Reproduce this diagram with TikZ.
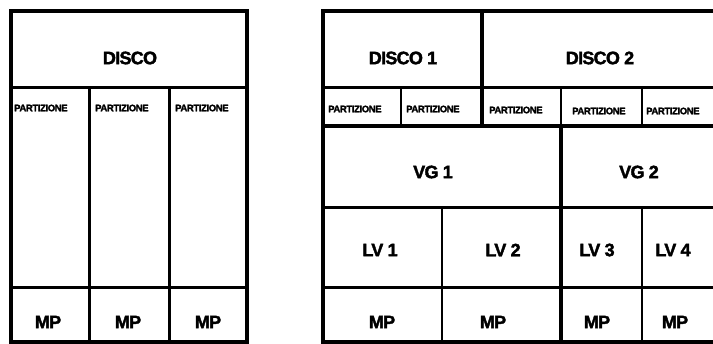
\documentclass[tikz,border=0pt]{standalone}
\usepackage{fontspec}
\newfontfamily\hfont{Liberation Sans Bold}[LetterSpace=-4,FakeBold=2]
\begin{document}
\begin{tikzpicture}[x=1pt,y=-1pt,
  big/.style={font=\hfont\fontsize{18}{18}\selectfont, inner sep=0pt},
  small/.style={font=\hfont\fontsize{9.5}{9.5}\selectfont, inner sep=0pt},
  outer/.style={line width=4pt},
  thick3/.style={line width=3pt},
  thin2/.style={line width=2pt},
  heavy/.style={line width=4.5pt}]
\useasboundingbox (0,0) rectangle (713,344);
\begin{scope}
\clip (0,0) rectangle (713,344);
% left diagram
\draw[thick3] (11,88) -- (247,88);
\draw[thick3] (89,88) -- (89,342);
\draw[thick3] (169,88) -- (169,342);
\draw[thick3] (11,288) -- (247,288);
\draw[outer] (11,11) rectangle (247,342);
% right diagram
\draw[thick3] (323,88) -- (720,88);
\draw[thin2] (401,88) -- (401,126);
\draw[thin2] (642,88) -- (642,126);
\draw[thin2] (561,88) -- (561,126);
\draw[thick3] (323,208) -- (720,208);
\draw[thick3] (323,288) -- (720,288);
\draw[thin2] (442,208) -- (442,342);
\draw[thin2] (642,208) -- (642,342);
\draw[outer] (323,126) -- (720,126);
\draw[heavy] (482,11) -- (482,126);
\draw[heavy] (561,126) -- (561,342);
\draw[outer] (720,11) -- (323,11) -- (323,342) -- (720,342);
\end{scope}
% left texts
\node[big] (disco) at (130,58) {DISCO};
\node[small, anchor=west] (pa1) at (14,108) {PARTIZIONE};
\node[small, anchor=west] (pa2) at (95,108) {PARTIZIONE};
\node[small, anchor=west] (pa3) at (175,108) {PARTIZIONE};
\node[big] (mpa1) at (48,322) {MP};
\node[big] (mpa2) at (128,322) {MP};
\node[big] (mpa3) at (208,322) {MP};
% right texts
\node[big] (disco1) at (403,58) {DISCO 1};
\node[big] (disco2) at (600,58) {DISCO 2};
\node[small, anchor=west] (pb1) at (328,109) {PARTIZIONE};
\node[small, anchor=west] (pb2) at (406,109) {PARTIZIONE};
\node[small, anchor=west] (pb3) at (489,110) {PARTIZIONE};
\node[small, anchor=west] (pb4) at (572,111) {PARTIZIONE};
\node[small, anchor=west] (pb5) at (646,111) {PARTIZIONE};
\node[big] (vg1) at (433,172) {VG 1};
\node[big] (vg2) at (639,172) {VG 2};
\node[big] (lv1) at (380,250) {LV 1};
\node[big] (lv2) at (503,250) {LV 2};
\node[big] (lv3) at (597,250) {LV 3};
\node[big] (lv4) at (673,250) {LV 4};
\node[big] (mpb1) at (382,322) {MP};
\node[big] (mpb2) at (493,322) {MP};
\node[big] (mpb3) at (597,322) {MP};
\node[big] (mpb4) at (675,322) {MP};
\end{tikzpicture}
\end{document}
